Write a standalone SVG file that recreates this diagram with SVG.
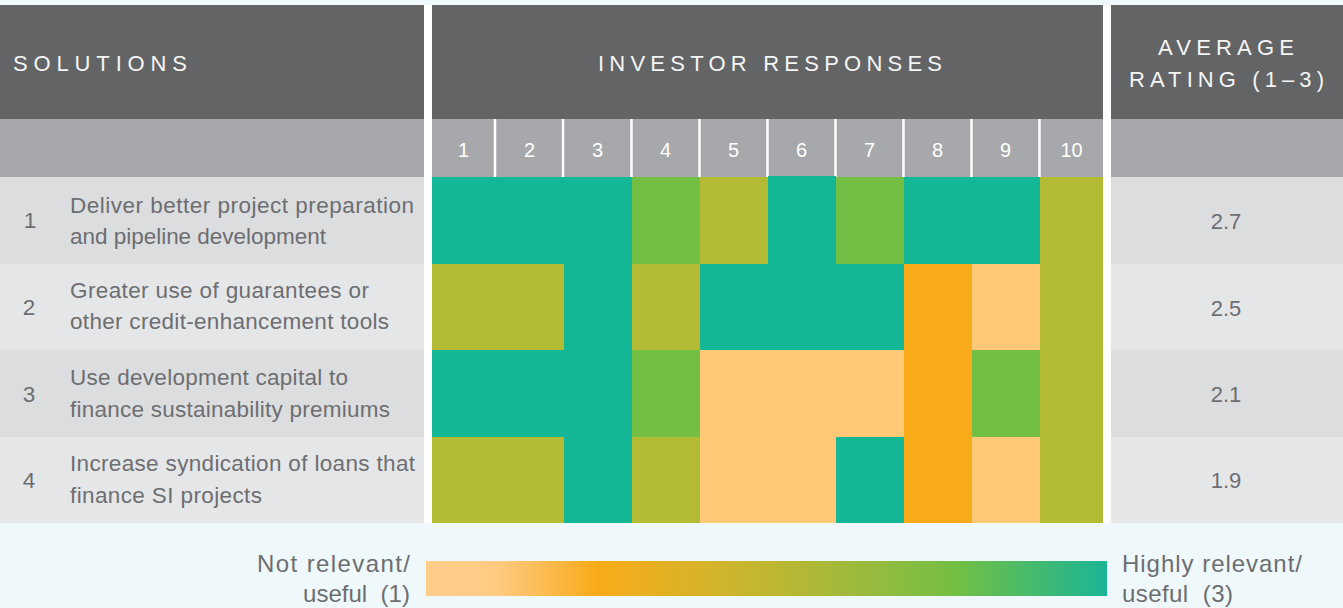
<svg xmlns="http://www.w3.org/2000/svg" width="1343" height="608" viewBox="0 0 1343 608">
<defs>
<style>
rect{shape-rendering:crispEdges}
.hd{fill:#636466}
.nr{fill:#a7a8ab}
.ra{fill:#dcdddf}
.rb{fill:#e5e6e8}
.t{fill:#14b795}
.g{fill:#73be44}
.o{fill:#b3ba34}
.y{fill:#f9ab1a}
.l{fill:#ffc978}
.ht{font-family:"Liberation Sans",Arial,sans-serif;font-size:22px;fill:#f5f5f5}
.nt{font-family:"Liberation Sans",Arial,sans-serif;font-size:20px;fill:#ffffff;text-anchor:middle}
.rt{font-family:"Liberation Sans",Arial,sans-serif;font-size:22.5px;fill:#6d6e71}
.vt{font-family:"Liberation Sans",Arial,sans-serif;font-size:22px;fill:#6d6e71;text-anchor:middle}
.lt{font-family:"Liberation Sans",Arial,sans-serif;font-size:24px;fill:#6d6e71;white-space:pre}
.sep{stroke:#ffffff;stroke-width:2.5}
</style>
<linearGradient id="scale" x1="0" y1="0" x2="1" y2="0">
<stop offset="0" stop-color="#ffcd89"/>
<stop offset="0.1" stop-color="#ffcb85"/>
<stop offset="0.25" stop-color="#f9ab1a"/>
<stop offset="0.42" stop-color="#d4b42a"/>
<stop offset="0.6" stop-color="#a6b93a"/>
<stop offset="0.78" stop-color="#72bf44"/>
<stop offset="1" stop-color="#1ab596"/>
</linearGradient>
</defs>
<rect x="0" y="0" width="1343" height="608" fill="#eff8fa"/>
<rect x="424" y="5" width="8" height="518" fill="#ffffff"/>
<rect x="1103" y="5" width="8" height="518" fill="#ffffff"/>

<g id="header">
<rect class="hd" x="0" y="5" width="424" height="114"/>
<rect class="hd" x="432" y="5" width="671" height="114"/>
<rect class="hd" x="1111" y="5" width="232" height="114"/>
<rect class="nr" x="0" y="119" width="424" height="58"/>
<rect class="nr" x="432" y="119" width="671" height="58"/>
<rect class="nr" x="1111" y="119" width="232" height="58"/>
<text class="ht" x="13" y="71" textLength="174" lengthAdjust="spacing">SOLUTIONS</text>
<text class="ht" x="598" y="71" textLength="344" lengthAdjust="spacing">INVESTOR RESPONSES</text>
<text class="ht" x="1158" y="55" textLength="136" lengthAdjust="spacing">AVERAGE</text>
<text class="ht" x="1129" y="87" textLength="195" lengthAdjust="spacing">RATING (1–3)</text>
</g>

<g id="investor-numbers">
<line class="sep" x1="495" y1="119" x2="495" y2="177"/>
<line class="sep" x1="563" y1="119" x2="563" y2="177"/>
<line class="sep" x1="631.5" y1="119" x2="631.5" y2="177"/>
<line class="sep" x1="699.5" y1="119" x2="699.5" y2="177"/>
<line class="sep" x1="767.5" y1="119" x2="767.5" y2="177"/>
<line class="sep" x1="835.5" y1="119" x2="835.5" y2="177"/>
<line class="sep" x1="903.5" y1="119" x2="903.5" y2="177"/>
<line class="sep" x1="971.5" y1="119" x2="971.5" y2="177"/>
<line class="sep" x1="1039.5" y1="119" x2="1039.5" y2="177"/>
<text class="nt" x="463.5" y="157">1</text>
<text class="nt" x="529.5" y="157">2</text>
<text class="nt" x="597.5" y="157">3</text>
<text class="nt" x="665.5" y="157">4</text>
<text class="nt" x="733.5" y="157">5</text>
<text class="nt" x="801.5" y="157">6</text>
<text class="nt" x="869.5" y="157">7</text>
<text class="nt" x="937.5" y="157">8</text>
<text class="nt" x="1005.5" y="157">9</text>
<text class="nt" x="1071.5" y="157">10</text>
</g>

<g id="row1">
<rect class="ra" x="0" y="177" width="424" height="87"/>
<rect class="ra" x="1111" y="177" width="232" height="87"/>
<text class="rt" x="30" y="228" text-anchor="middle">1</text>
<text class="rt" x="70" y="213" textLength="344" lengthAdjust="spacing">Deliver better project preparation</text>
<text class="rt" x="70" y="244" textLength="256" lengthAdjust="spacing">and pipeline development</text>
<text class="vt" x="1226" y="229">2.7</text>
</g>
<g id="row2">
<rect class="rb" x="0" y="264" width="424" height="86"/>
<rect class="rb" x="1111" y="264" width="232" height="86"/>
<text class="rt" x="29" y="315" text-anchor="middle">2</text>
<text class="rt" x="70" y="298" textLength="299" lengthAdjust="spacing">Greater use of guarantees or</text>
<text class="rt" x="70" y="329" textLength="319" lengthAdjust="spacing">other credit-enhancement tools</text>
<text class="vt" x="1226" y="316">2.5</text>
</g>
<g id="row3">
<rect class="ra" x="0" y="350" width="424" height="87"/>
<rect class="ra" x="1111" y="350" width="232" height="87"/>
<text class="rt" x="29" y="402" text-anchor="middle">3</text>
<text class="rt" x="70" y="385" textLength="278" lengthAdjust="spacing">Use development capital to</text>
<text class="rt" x="70" y="417" textLength="320" lengthAdjust="spacing">finance sustainability premiums</text>
<text class="vt" x="1226" y="402">2.1</text>
</g>
<g id="row4">
<rect class="rb" x="0" y="437" width="424" height="86"/>
<rect class="rb" x="1111" y="437" width="232" height="86"/>
<text class="rt" x="29" y="488" text-anchor="middle">4</text>
<text class="rt" x="70" y="471" textLength="345" lengthAdjust="spacing">Increase syndication of loans that</text>
<text class="rt" x="70" y="503" textLength="192" lengthAdjust="spacing">finance SI projects</text>
<text class="vt" x="1226" y="488">1.9</text>
</g>

<g id="heatmap">
<!-- row 1 -->
<rect class="t" x="432" y="177" width="200" height="87"/>
<rect class="g" x="632" y="177" width="68" height="87"/>
<rect class="o" x="700" y="177" width="68" height="87"/>
<rect class="t" x="768" y="176" width="68" height="88"/>
<rect class="g" x="836" y="177" width="68" height="87"/>
<rect class="t" x="904" y="177" width="136" height="87"/>
<!-- row 2 -->
<rect class="o" x="432" y="264" width="132" height="86"/>
<rect class="t" x="564" y="264" width="68" height="86"/>
<rect class="o" x="632" y="264" width="68" height="86"/>
<rect class="t" x="700" y="264" width="204" height="86"/>
<rect class="y" x="904" y="264" width="68" height="86"/>
<rect class="l" x="972" y="264" width="68" height="86"/>
<!-- row 3 -->
<rect class="t" x="432" y="350" width="200" height="87"/>
<rect class="g" x="632" y="350" width="68" height="87"/>
<rect class="l" x="700" y="350" width="204" height="87"/>
<rect class="y" x="904" y="350" width="68" height="87"/>
<rect class="g" x="972" y="350" width="68" height="87"/>
<!-- row 4 -->
<rect class="o" x="432" y="437" width="132" height="86"/>
<rect class="t" x="564" y="437" width="68" height="86"/>
<rect class="o" x="632" y="437" width="68" height="86"/>
<rect class="l" x="700" y="437" width="136" height="86"/>
<rect class="t" x="836" y="437" width="68" height="86"/>
<rect class="y" x="904" y="437" width="68" height="86"/>
<rect class="l" x="972" y="437" width="68" height="86"/>
<!-- column 10 -->
<rect class="o" x="1040" y="177" width="63" height="346"/>
</g>

<g id="legend">
<rect x="426" y="561" width="681" height="35" fill="url(#scale)"/>
<text class="lt" x="410" y="572" text-anchor="end" textLength="153" lengthAdjust="spacing">Not relevant/</text>
<text class="lt" x="410" y="602" text-anchor="end" textLength="107" lengthAdjust="spacing">useful  (1)</text>
<text class="lt" x="1122" y="572" textLength="180" lengthAdjust="spacing">Highly relevant/</text>
<text class="lt" x="1122" y="602" textLength="111" lengthAdjust="spacing">useful  (3)</text>
</g>
</svg>
